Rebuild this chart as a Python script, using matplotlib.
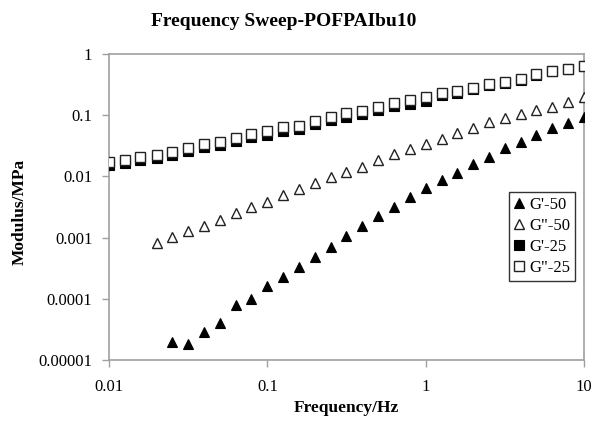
import matplotlib
matplotlib.use("Agg")
import matplotlib.pyplot as plt
from matplotlib.ticker import FixedLocator, FixedFormatter, NullLocator

plt.rcParams['font.family'] = ['Liberation Serif', 'DejaVu Serif']

# Oscillation frequencies (Hz), 10 points per decade
freq = [0.01, 0.0126, 0.0158, 0.02, 0.0251, 0.0316, 0.0398, 0.0501, 0.0631, 0.0794,
        0.1, 0.126, 0.158, 0.2, 0.251, 0.316, 0.398, 0.501, 0.631, 0.794,
        1.0, 1.26, 1.58, 2.0, 2.51, 3.16, 3.98, 5.01, 6.31, 7.94, 10.0]

# Storage / loss moduli (MPa) at 50 C
g1_50 = [1.95e-5, 1.83e-5, 2.84e-5, 4.07e-5, 7.92e-5, 9.82e-5, 1.64e-4, 2.25e-4,
         3.35e-4, 4.88e-4, 7.10e-4, 1.07e-3, 1.55e-3, 2.26e-3, 3.20e-3, 4.55e-3,
         6.38e-3, 8.73e-3, 0.01148, 0.01595, 0.0210, 0.0288, 0.0369, 0.0475,
         0.0610, 0.0738, 0.0924]
g2_50 = [0.000807, 0.00101, 0.00128, 0.00155, 0.00194, 0.00250, 0.00313, 0.00386,
         0.00491, 0.00615, 0.00771, 0.00967, 0.01167, 0.0144, 0.0185, 0.0230,
         0.0280, 0.0338, 0.0408, 0.0506, 0.0625, 0.0766, 0.0890, 0.1035, 0.1217,
         0.1377, 0.1663, 0.196]

# Storage / loss moduli (MPa) at 25 C
g1_25 = [0.0152, 0.0165, 0.0183, 0.0202, 0.0227, 0.0263, 0.0299, 0.0326, 0.0375,
         0.0436, 0.0475, 0.0556, 0.0591, 0.0713, 0.0829, 0.0938, 0.1044, 0.1210,
         0.1403, 0.1552, 0.1736, 0.2116, 0.2329, 0.2708, 0.3082, 0.3400, 0.3708,
         0.4536, 0.533, 0.568, 0.644]
g2_25 = [0.0170, 0.0185, 0.0205, 0.0226, 0.0254, 0.0295, 0.0335, 0.0365, 0.0420,
         0.0488, 0.0542, 0.0634, 0.0674, 0.0813, 0.0945, 0.107, 0.119, 0.138,
         0.160, 0.177, 0.198, 0.228, 0.251, 0.281, 0.320, 0.353, 0.385, 0.471,
         0.533, 0.568, 0.644]

fig = plt.figure(figsize=(5.94, 4.26), dpi=100)
ax = fig.add_axes([109/594, 1-360/426, 475/594, 306/426])

ms = 7.4
edge = '#222222'
ax.plot(freq[4:], g1_50, ls='none', marker='^', ms=ms, mfc='black', mec='black',
        mew=0.8, label="G'-50", zorder=3)
ax.plot(freq[3:], g2_50, ls='none', marker='^', ms=ms, mfc='white', mec=edge,
        mew=1.0, label='G"-50', zorder=3)
ax.plot(freq, g1_25, ls='none', marker='s', ms=ms, mfc='black', mec='black',
        mew=0.8, label="G'-25", zorder=3)
ax.plot(freq, g2_25, ls='none', marker='s', ms=ms, mfc='white', mec=edge,
        mew=1.0, label='G"-25', zorder=4)

ax.set_xscale('log')
ax.set_yscale('log')
ax.set_xlim(0.01, 10)
ax.set_ylim(1e-5, 1)

xt = [0.01, 0.1, 1, 10]
yt = [1e-5, 1e-4, 1e-3, 1e-2, 1e-1, 1]
ax.xaxis.set_major_locator(FixedLocator(xt))
ax.xaxis.set_major_formatter(FixedFormatter(['0.01', '0.1', '1', '10']))
ax.yaxis.set_major_locator(FixedLocator(yt))
ax.yaxis.set_major_formatter(FixedFormatter(['0.00001', '0.0001', '0.001', '0.01', '0.1', '1']))
ax.xaxis.set_minor_locator(NullLocator())
ax.yaxis.set_minor_locator(NullLocator())

for sp in ax.spines.values():
    sp.set_color('#a0a0a0')
    sp.set_linewidth(1.2)
ax.tick_params(axis='both', which='major', direction='out', length=5, width=1.0,
               color='#a0a0a0', labelsize=12, pad=7)
ax.tick_params(axis='x', pad=9)

fig.text(284/594, 1-22/426, 'Frequency Sweep-POFPAIbu10', ha='center', va='center',
         fontsize=14, fontweight='bold')
fig.text(346/594, 1-408/426, 'Frequency/Hz', ha='center', va='center',
         fontsize=12.5, fontweight='bold')
fig.text(20/594, 1-212/426, 'Modulus/MPa', ha='center', va='center', rotation=90,
         fontsize=12.5, fontweight='bold')

leg = ax.legend(loc='upper left', bbox_to_anchor=((509-109)/475, (360-192)/306),
                frameon=True, fancybox=False, fontsize=12, handlelength=0.6,
                handletextpad=0.3, borderpad=0.3, labelspacing=0.3,
                borderaxespad=0, markerscale=0.95)
leg.get_frame().set_edgecolor('black')
leg.get_frame().set_linewidth(1.0)

fig.savefig('out.png', dpi=100)
